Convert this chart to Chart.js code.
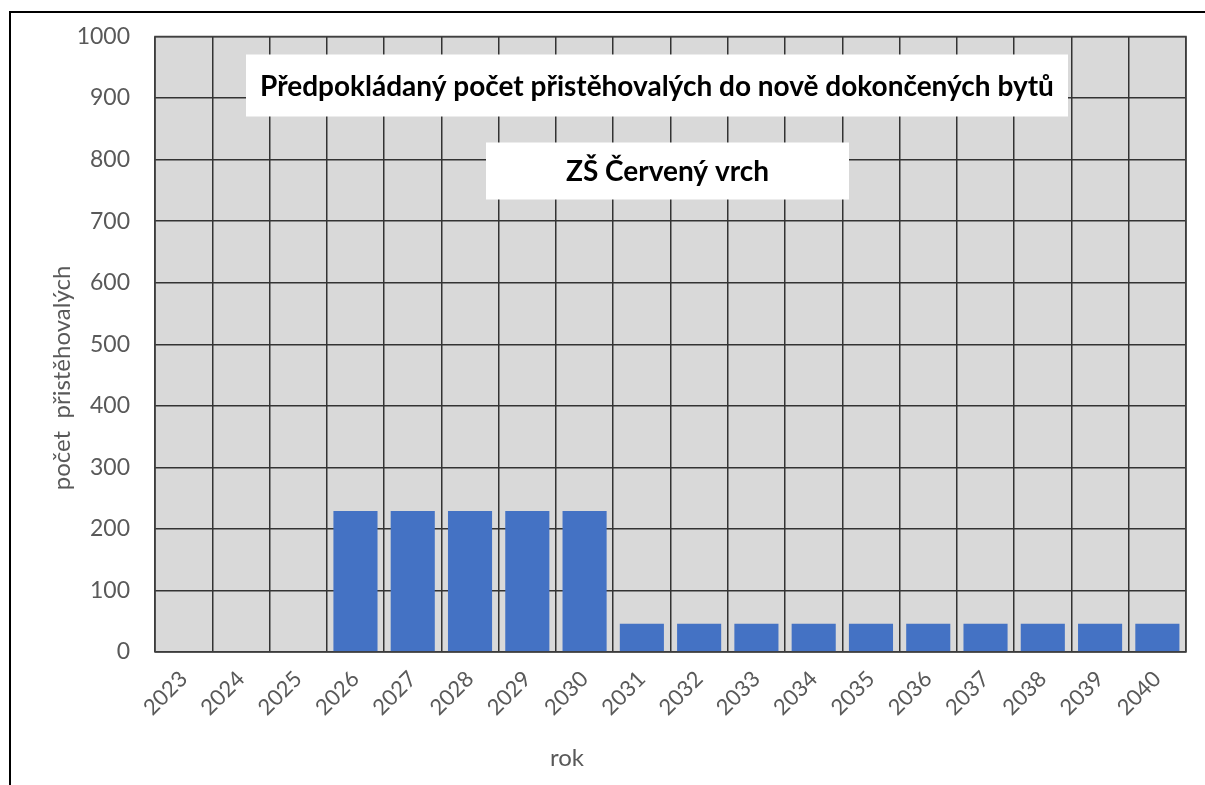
<!DOCTYPE html>
<html>
<head>
<meta charset="utf-8">
<script src="https://cdn.jsdelivr.net/npm/chart.js@4"></script>
<style>
  html, body { margin: 0; padding: 0; background: #fff; }
  #wrap { width: 1205px; height: 785px; position: relative; }
</style>
</head>
<body>
<div id="wrap"><canvas id="myChart" width="1205" height="785"></canvas></div>
<script>
// Data
const years = ['2023', '2024', '2025', '2026', '2027', '2028', '2029', '2030', '2031',
  '2032', '2033', '2034', '2035', '2036', '2037', '2038', '2039', '2040'];
const prichozi = [0, 0, 0, 229, 229, 229, 229, 229, 46, 46, 46, 46, 46, 46, 46, 46, 46, 46];
const yMax = 1000;
const yStep = 100;

const titleText = 'Předpokládaný počet přistěhovalých do nově dokončených bytů';
const subtitleText = 'ZŠ Červený vrch';
const xTitle = 'rok';
const yTitle = 'počet  přistěhovalých';

const FONT = 'Lato, "Open Sans", sans-serif';

// frame, grey plot background, white title boxes, axis titles
const decorPlugin = {
  id: 'decor',
  beforeDraw(chart) {
    const { ctx, chartArea: a } = chart;
    ctx.save();
    ctx.fillStyle = '#d9d9d9';
    ctx.fillRect(a.left, a.top, a.right - a.left, a.bottom - a.top);
    ctx.restore();
  },
  afterDraw(chart) {
    const { ctx, chartArea: a } = chart;
    ctx.save();
    // outer frame (left + top only visible)
    ctx.strokeStyle = '#000';
    ctx.lineWidth = 2;
    ctx.beginPath();
    ctx.moveTo(10, 785);
    ctx.lineTo(10, 12);
    ctx.lineTo(1205, 12);
    ctx.stroke();

    // plot border
    ctx.strokeStyle = '#404040';
    ctx.lineWidth = 1.5;
    ctx.strokeRect(a.left, a.top, a.right - a.left, a.bottom - a.top);

    // title boxes
    const boxes = [
      { text: titleText, size: 28, x: a.left + 91, y: a.top + 18, w: 822, h: 62 },
      { text: subtitleText, size: 28, x: a.left + 331, y: a.top + 106, w: 363, h: 57 }
    ];
    ctx.textAlign = 'center';
    ctx.textBaseline = 'middle';
    boxes.forEach(b => {
      ctx.fillStyle = '#fff';
      ctx.fillRect(b.x, b.y, b.w, b.h);
      ctx.fillStyle = '#000';
      ctx.font = 'bold ' + b.size + 'px ' + FONT;
      ctx.fillText(b.text, b.x + b.w / 2, b.y + b.h / 2 + 1);
    });

    // axis titles
    ctx.fillStyle = '#595959';
    ctx.font = '24px ' + FONT;
    ctx.fillText(xTitle, 567, 758);
    ctx.translate(62, 378);
    ctx.rotate(-Math.PI / 2);
    ctx.fillText(yTitle, 0, 0);
    ctx.restore();
  }
};

new Chart(document.getElementById('myChart'), {
  type: 'bar',
  data: {
    labels: years,
    datasets: [{
      data: prichozi,
      backgroundColor: '#4472c4',
      borderWidth: 0,
      barPercentage: 0.77,
      categoryPercentage: 1
    }]
  },
  plugins: [decorPlugin],
  options: {
    responsive: false,
    animation: false,
    layout: { padding: { top: 36, right: 19, left: 0, bottom: 0 } },
    plugins: {
      legend: { display: false },
      tooltip: { enabled: false }
    },
    scales: {
      x: {
        afterFit(scale) { scale.height = 133; },
        grid: { offset: true, color: '#333', lineWidth: 1.5, drawTicks: false },
        border: { display: false },
        ticks: {
          color: '#595959',
          font: { family: FONT, size: 22 },
          maxRotation: 45,
          minRotation: 45,
          padding: 14
        }
      },
      y: {
        min: 0,
        max: yMax,
        afterFit(scale) { scale.width = 155; },
        grid: { color: '#333', lineWidth: 1.5, drawTicks: false },
        border: { display: false },
        ticks: {
          stepSize: yStep,
          color: '#595959',
          font: { family: FONT, size: 23, lineHeight: 1 },
          padding: 25,
          callback: v => String(v)
        }
      }
    }
  }
});
</script>
</body>
</html>
